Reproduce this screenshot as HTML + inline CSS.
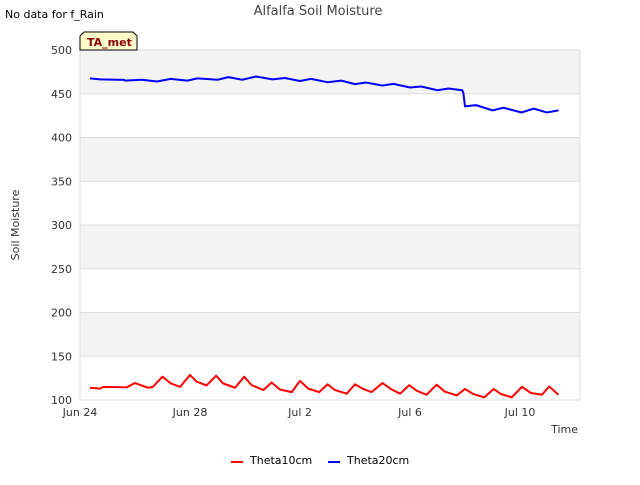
<!DOCTYPE html>
<html><head><meta charset="utf-8"><style>
body{margin:0;background:#fff;font-family:"Liberation Sans","DejaVu Sans",sans-serif}
</style></head><body>
<svg width="640" height="480" xmlns="http://www.w3.org/2000/svg" font-family="DejaVu Sans, Liberation Sans, sans-serif">
<rect width="640" height="480" fill="#fff"/>
<g id="bands"></g>
<g id="grid"></g>
<rect x="80" y="50" width="500" height="350" fill="none" stroke="#ddd"/>
<g id="ticks" font-size="11" fill="#333"></g>
<g id="series"></g>
<text x="318" y="15" text-anchor="middle" font-size="13" fill="#444">Alfalfa Soil Moisture</text>
<text x="5" y="18" font-size="11" fill="#000">No data for f_Rain</text>
<text transform="translate(19,225) rotate(-90)" text-anchor="middle" font-size="11" fill="#333">Soil Moisture</text>
<text x="578" y="433" text-anchor="end" font-size="11" fill="#333">Time</text>
<g>
<path d="M80,50 L80,36 L84,32 L133,32 L137,36 L137,50 Z" fill="#ffffcc" stroke="#000"/>
<text x="87" y="46" font-size="11" font-weight="bold" fill="#8b0000">TA_met</text>
</g>
<g font-size="11" fill="#000">
<line x1="231" y1="462" x2="243" y2="462" stroke="#f00" stroke-width="2"/>
<text x="250" y="464">Theta10cm</text>
<line x1="328" y1="462" x2="340" y2="462" stroke="#00f" stroke-width="2"/>
<text x="347" y="464">Theta20cm</text>
</g>
</svg>
<script>
const yTicks=[100,150,200,250,300,350,400,450,500];
const xTickLabels=["Jun 24","Jun 28","Jul 2","Jul 6","Jul 10"];
const xTickDays=[0,4,8,12,16];
const redDays=[0.36,0.73,0.85,1.7,2.0,2.47,2.65,3.0,3.3,3.64,4.0,4.24,4.6,4.95,5.2,5.64,5.97,6.24,6.67,6.97,7.27,7.7,8.0,8.3,8.7,9.0,9.27,9.7,10.0,10.3,10.6,11.0,11.3,11.64,11.97,12.24,12.6,12.97,13.27,13.7,14.0,14.3,14.7,15.04,15.3,15.7,16.07,16.4,16.8,17.06,17.4];
const redVals=[114,113,115,114.5,119.4,114,115,126.7,119,115,128.6,121,116.6,127.8,119,114,126.7,117,111.4,120,112,109,121.9,113,109,118,111.4,107.2,118,112.6,109,119.4,112.6,107.2,117,110.6,106,117.5,109.5,105.3,112.6,106.9,103,112.6,106.9,103,115,108,106,115.4,106];
const blueDays=[0.36,0.73,1.6,1.64,2.24,2.8,3.3,3.9,4.27,5.0,5.4,5.9,6.4,7.0,7.45,8.0,8.4,9.0,9.5,10.0,10.4,11.0,11.4,12.0,12.4,13.0,13.4,13.9,13.94,14.0,14.4,15.0,15.4,16.06,16.5,16.97,17.4];
const blueVals=[467.6,466.4,465.9,465,466,464,467,465,467.6,466,469,466,469.7,466.4,468,464.6,467,463.2,465,461,462.8,459.4,461.3,457.1,458.3,454,456,454,451,435.6,437,431,434,428.6,433,428.6,431];
const NS="http://www.w3.org/2000/svg";
const X=d=>80+d*27.5, Y=v=>400-(v-100)*0.875;
function mk(t,a,p){const e=document.createElementNS(NS,t);for(const k in a)e.setAttribute(k,a[k]);p.appendChild(e);return e;}
const bands=document.getElementById('bands'),grid=document.getElementById('grid'),ticks=document.getElementById('ticks'),series=document.getElementById('series');
for(let i=0;i<yTicks.length-1;i++){if(i%2===1){const r=mk('rect',{x:80,y:Y(yTicks[i+1]),width:500,height:Y(yTicks[i])-Y(yTicks[i+1]),fill:'#f3f3f3'},bands);}}
yTicks.forEach(v=>{const l=mk('line',{x1:80,x2:580,y1:Y(v),y2:Y(v),stroke:'#ddd'},grid);
const t=mk('text',{x:72,y:Y(v)+4,'text-anchor':'end'},ticks);t.textContent=v;});
xTickDays.forEach((d,i)=>{const t=mk('text',{x:X(d),y:416,'text-anchor':'middle'},ticks);t.textContent=xTickLabels[i];});
function line(ds,vs,c,n){const p=mk('polyline',{points:ds.map((d,i)=>X(d)+','+Y(vs[i])).join(' '),fill:'none',stroke:c,'stroke-width':2,'stroke-linejoin':'round'},series);}
line(redDays,redVals,'#f00','theta10cm-line');
line(blueDays,blueVals,'#00f','theta20cm-line');
</script>
</body></html>
